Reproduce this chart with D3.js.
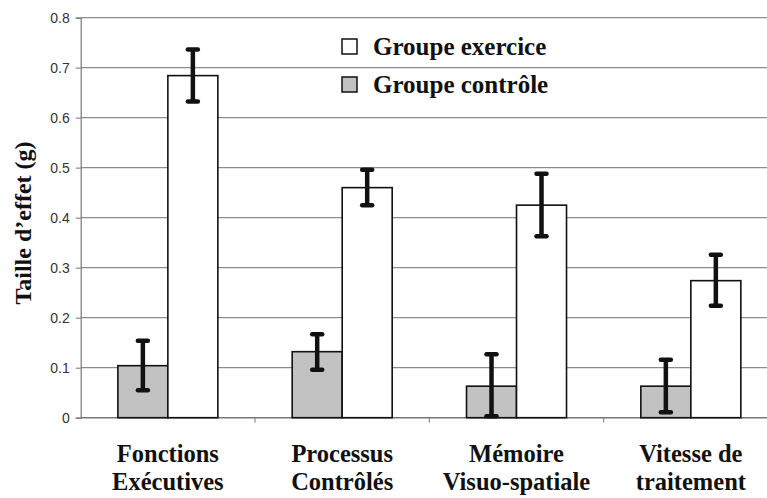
<!DOCTYPE html>
<meta charset="utf-8">
<script src="https://d3js.org/d3.v7.js"></script>
<style>
  body { margin: 0; background: #fff; }
</style>
<svg id="chart" width="767" height="498"></svg>
<script>

// Data
const categories = [["Fonctions", "Exécutives"], ["Processus", "Contrôlés"], ["Mémoire", "Visuo-spatiale"], ["Vitesse de", "traitement"]];
const exercice     = [0.684, 0.460, 0.425, 0.274];
const exerciceLow  = [0.632, 0.425, 0.363, 0.224];
const exerciceHigh = [0.736, 0.496, 0.488, 0.326];
const controle     = [0.104, 0.132, 0.063, 0.063];
const controleLow  = [0.055, 0.096, 0.003, 0.011];
const controleHigh = [0.154, 0.167, 0.127, 0.116];
const yTicks = [0, 0.1, 0.2, 0.3, 0.4, 0.5, 0.6, 0.7, 0.8];
const series = ["controle", "exercice"];
const seriesLabels = ["Groupe contrôle", "Groupe exercice"];

const serif = "'Liberation Serif', 'DejaVu Serif', serif";

const svg = d3.select("#chart"),
  width = +svg.attr("width"),
  height = +svg.attr("height");

svg.append("rect").attr("width", width).attr("height", height).attr("fill", "#fff");

// plot area runs a bit past the right edge (the figure is cropped)
const mLeft = 80.7, mRight = 778, mTop = 17.6, mBottom = 417.7;

const keys = categories.map(d => d.join(" "));
const x0 = d3.scaleBand().domain(keys).range([mLeft, mRight]).padding(0);
const bw = x0.bandwidth();
const x1 = d3.scaleBand().domain(series).range([(bw - 100) / 2, (bw + 100) / 2]).padding(0);
const y = d3.scaleLinear().domain([0, 0.8]).range([mBottom, mTop]);

// gridlines
svg.append("g")
  .selectAll("line")
  .data(yTicks.slice(1))
  .join("line")
    .attr("x1", mLeft).attr("x2", width)
    .attr("y1", d => y(d)).attr("y2", d => y(d))
    .attr("stroke", "#8c8c8c")
    .attr("stroke-width", 1.2);

// y axis
const yAxis = svg.append("g")
  .attr("transform", `translate(${mLeft},0)`)
  .call(d3.axisLeft(y).tickValues(yTicks).tickSize(5).tickPadding(6)
    .tickFormat(d => d === 0 ? "0" : d3.format(".1f")(d)));
yAxis.select(".domain").attr("stroke", "#777").attr("stroke-width", 1.2);
yAxis.selectAll(".tick line").attr("stroke", "#777");
yAxis.selectAll(".tick text")
  .attr("fill", "#333")
  .style("font-family", "'Liberation Sans', Arial, sans-serif")
  .style("font-size", "14px");

// x axis baseline + tick marks at category boundaries
svg.append("line")
  .attr("x1", mLeft).attr("x2", width)
  .attr("y1", mBottom).attr("y2", mBottom)
  .attr("stroke", "#777").attr("stroke-width", 1.4);
svg.append("g")
  .selectAll("line")
  .data(keys.slice(1))
  .join("line")
    .attr("x1", d => x0(d)).attr("x2", d => x0(d))
    .attr("y1", mBottom).attr("y2", mBottom + 5)
    .attr("stroke", "#777");

// bars
const rows = keys.map((k, i) => ({
  key: k,
  vals: [
    { s: "controle", v: controle[i], lo: controleLow[i], hi: controleHigh[i] },
    { s: "exercice", v: exercice[i], lo: exerciceLow[i], hi: exerciceHigh[i] }
  ]
}));

const groups = svg.append("g")
  .selectAll("g")
  .data(rows)
  .join("g")
    .attr("transform", d => `translate(${x0(d.key)},0)`);

groups.selectAll("rect")
  .data(d => d.vals)
  .join("rect")
    .attr("x", d => x1(d.s))
    .attr("width", x1.bandwidth())
    .attr("y", d => y(d.v))
    .attr("height", d => y(0) - y(d.v))
    .attr("fill", d => d.s === "controle" ? "#c2c2c2" : "#fff")
    .attr("stroke", "#111")
    .attr("stroke-width", 1.6);

// error bars
const err = groups.selectAll("g.err")
  .data(d => d.vals)
  .join("g")
    .attr("class", "err")
    .attr("transform", d => `translate(${x1(d.s) + x1.bandwidth() / 2},0)`);
err.append("line")
  .attr("y1", d => y(d.lo)).attr("y2", d => y(d.hi))
  .attr("stroke", "#111").attr("stroke-width", 4.5);
err.selectAll("line.cap")
  .data(d => [d.lo, d.hi])
  .join("line")
    .attr("class", "cap")
    .attr("x1", -5).attr("x2", 5)
    .attr("y1", d => y(d)).attr("y2", d => y(d))
    .attr("stroke", "#111").attr("stroke-width", 4.5)
    .attr("stroke-linecap", "round");

// category labels
const lab = svg.append("g")
  .selectAll("text")
  .data(categories)
  .join("text")
    .attr("x", (d, i) => x0(keys[i]) + bw / 2)
    .attr("text-anchor", "middle")
    .style("font-family", serif)
    .style("font-size", "24.5px")
    .style("font-weight", "bold")
    .attr("fill", "#111");
lab.selectAll("tspan")
  .data(d => d)
  .join("tspan")
    .attr("x", function() { return d3.select(this.parentNode).attr("x"); })
    .attr("y", (d, i) => 462 + i * 28)
    .text(d => d);

// y title
svg.append("text")
  .attr("transform", "translate(31,223) rotate(-90)")
  .attr("text-anchor", "middle")
  .style("font-family", serif)
  .style("font-size", "24px")
  .style("font-weight", "bold")
  .attr("fill", "#111")
  .text("Taille d\u2019effet (g)");

// legend
const legend = svg.append("g")
  .selectAll("g")
  .data([1, 0])
  .join("g")
    .attr("transform", (d, i) => `translate(342,${39 + i * 38})`);
legend.append("rect")
  .attr("width", 15).attr("height", 15)
  .attr("fill", d => d === 0 ? "#c2c2c2" : "#fff")
  .attr("stroke", "#111").attr("stroke-width", 1.5);
legend.append("text")
  .attr("x", 31).attr("y", 15.5)
  .style("font-family", serif)
  .style("font-size", "25px")
  .style("font-weight", "bold")
  .attr("fill", "#111")
  .text(d => seriesLabels[d]);

</script>
